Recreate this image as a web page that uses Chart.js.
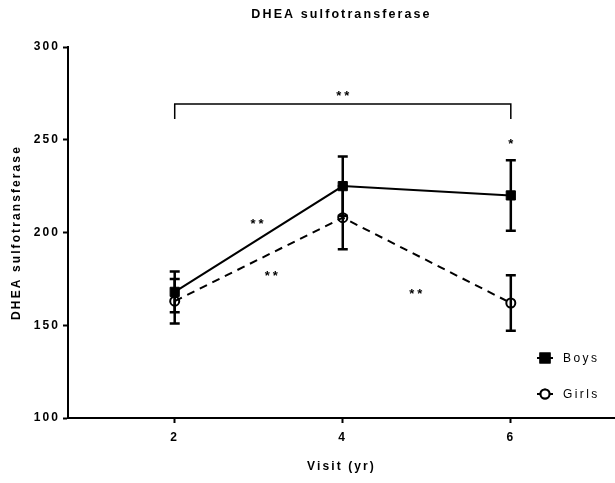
<!DOCTYPE html>
<html>
<head>
<meta charset="utf-8">
<script src="https://cdn.jsdelivr.net/npm/chart.js@4.4.1/dist/chart.umd.min.js"></script>
<style>
    html, body { margin: 0; padding: 0; background: #fff; }
    #wrap { width: 615px; height: 483px; }
</style>
</head>
<body>
<div id="wrap"><canvas id="dheaChart"></canvas></div>
<script>
// ── DATA ──────────────────────────────────────────────
const visits = [2, 4, 6];
const seriesNames = ['Boys', 'Girls'];
const boysMean = [168, 225, 220];
const boysErr = [11, 16, 19];
const girlsMean = [163, 208, 162];
const girlsErr = [12, 17, 15];
const yTicks = [100, 150, 200, 250, 300];

// significance marks (data coordinates)
const sigText = ['**', '*', '**', '**', '**'];
const sigX = [4, 6, 2.98, 3.15, 4.87];
const sigY = [275, 249, 206, 178, 168.5];
const bracketX = [2, 6];
const bracketY = [269.3, 261.2]; // top line, end of the legs

const FONT = '"Liberation Sans", Arial, sans-serif';

// ── PLUGINS ───────────────────────────────────────────
const spacingPlugin = {
    id: 'spacing',
    beforeLayout(chart) { chart.ctx.letterSpacing = '2.1px'; },
    beforeDraw(chart) { chart.ctx.letterSpacing = '2.1px'; }
};

const errorBarPlugin = {
    id: 'errorBars',
    beforeDatasetsDraw(chart) {
        const {ctx, scales: {x, y}} = chart;
        const sets = [[boysMean, boysErr], [girlsMean, girlsErr]];
        ctx.save();
        ctx.strokeStyle = '#000';
        ctx.lineWidth = 2.5;
        sets.forEach(([mean, err]) => {
            visits.forEach((v, i) => {
                const px = x.getPixelForValue(v);
                const top = y.getPixelForValue(mean[i] + err[i]);
                const bot = y.getPixelForValue(mean[i] - err[i]);
                ctx.beginPath();
                ctx.moveTo(px, top); ctx.lineTo(px, bot);
                ctx.moveTo(px - 5, top); ctx.lineTo(px + 5, top);
                ctx.moveTo(px - 5, bot); ctx.lineTo(px + 5, bot);
                ctx.stroke();
            });
        });
        ctx.restore();
    }
};

const sigPlugin = {
    id: 'sigMarks',
    afterDatasetsDraw(chart) {
        const {ctx, scales: {x, y}} = chart;
        ctx.save();
        ctx.strokeStyle = '#000';
        ctx.lineWidth = 1.5;
        const x0 = x.getPixelForValue(bracketX[0]), x1 = x.getPixelForValue(bracketX[1]);
        const yt = y.getPixelForValue(bracketY[0]), yb = y.getPixelForValue(bracketY[1]);
        ctx.beginPath();
        ctx.moveTo(x0, yb); ctx.lineTo(x0, yt); ctx.lineTo(x1, yt); ctx.lineTo(x1, yb);
        ctx.stroke();

        ctx.fillStyle = '#000';
        ctx.font = 'bold 13px ' + FONT;
        ctx.letterSpacing = '3px';
        ctx.textAlign = 'center';
        ctx.textBaseline = 'middle';
        sigText.forEach((t, i) => {
            ctx.fillText(t, x.getPixelForValue(sigX[i]) + 1.5, y.getPixelForValue(sigY[i]) + 3);
        });
        ctx.restore();
    }
};

const legendPlugin = {
    id: 'sideLegend',
    afterDraw(chart) {
        const {ctx} = chart;
        ctx.save();
        chart.data.datasets.forEach((ds, i) => {
            const cy = 358 + i * 36;
            ctx.strokeStyle = '#000';
            ctx.lineWidth = 2;
            ctx.beginPath();
            ctx.moveTo(537, cy); ctx.lineTo(553, cy);
            ctx.stroke();
            Chart.helpers.drawPoint(ctx, {
                pointStyle: ds.pointStyle,
                radius: ds.pointRadius,
                borderWidth: ds.pointBorderWidth
            }, 545, cy);
            ctx.fillStyle = ds.pointStyle === 'rect' ? '#000' : '#fff';
            ctx.fill();
            ctx.stroke();
            ctx.fillStyle = '#000';
            ctx.font = '12px ' + FONT;
            ctx.letterSpacing = '2.4px';
            ctx.textAlign = 'left';
            ctx.textBaseline = 'middle';
            ctx.fillText(ds.label, 563, cy + 1);
        });
        ctx.restore();
    }
};

// ── CHART ─────────────────────────────────────────────
const axisFont = {family: FONT, size: 12, weight: 'bold'};
const titleFont = {family: FONT, size: 12.5, weight: 'bold'};

new Chart(document.getElementById('dheaChart'), {
    type: 'line',
    data: {
        datasets: [
            {
                label: seriesNames[0],
                data: visits.map((v, i) => ({x: v, y: boysMean[i]})),
                borderColor: '#000',
                borderWidth: 2,
                pointStyle: 'rect',
                pointRadius: 6.5,
                pointBorderWidth: 1,
                pointBackgroundColor: '#000',
                pointBorderColor: '#000',
                tension: 0
            },
            {
                label: seriesNames[1],
                data: visits.map((v, i) => ({x: v, y: girlsMean[i]})),
                borderColor: '#000',
                borderWidth: 2,
                borderDash: [8, 6],
                pointStyle: 'circle',
                pointRadius: 4.5,
                pointBorderWidth: 2,
                pointBackgroundColor: 'rgba(255,255,255,0)',
                pointBorderColor: '#000',
                tension: 0
            }
        ]
    },
    options: {
        responsive: true,
        maintainAspectRatio: false,
        animation: false,
        layout: {padding: 0, autoPadding: false},
        plugins: {
            legend: {display: false},
            tooltip: {enabled: false},
            title: {
                display: true,
                text: 'DHEA sulfotransferase',
                fullSize: false,
                color: '#000',
                font: titleFont,
                padding: {top: 7, bottom: 25}
            }
        },
        scales: {
            x: {
                type: 'linear',
                min: 0.73,
                max: 7.24,
                afterBuildTicks: s => { s.ticks = visits.map(v => ({value: v})); },
                afterFit: s => { s.height = 65; s.paddingLeft = 0; s.paddingRight = 0; },
                grid: {display: true, drawOnChartArea: false, drawTicks: true, tickLength: 5, tickWidth: 2, color: '#000'},
                border: {display: true, width: 2, color: '#000'},
                ticks: {color: '#000', font: axisFont, padding: 7, maxRotation: 0},
                title: {display: true, text: 'Visit (yr)', color: '#000', font: axisFont, padding: {top: 0, bottom: 9}}
            },
            y: {
                type: 'linear',
                min: yTicks[0],
                max: yTicks[yTicks.length - 1],
                afterBuildTicks: s => { s.ticks = yTicks.map(v => ({value: v})); },
                afterFit: s => { s.width = 68; },
                grid: {display: true, drawOnChartArea: false, drawTicks: true, tickLength: 5, tickWidth: 2, color: '#000'},
                border: {display: true, width: 2, color: '#000'},
                ticks: {color: '#000', font: axisFont, padding: 3},
                title: {display: true, text: 'DHEA sulfotransferase', color: '#000', font: axisFont, padding: {top: 9, bottom: 0}}
            }
        }
    },
    plugins: [spacingPlugin, errorBarPlugin, sigPlugin, legendPlugin]
});
</script>
</body>
</html>
